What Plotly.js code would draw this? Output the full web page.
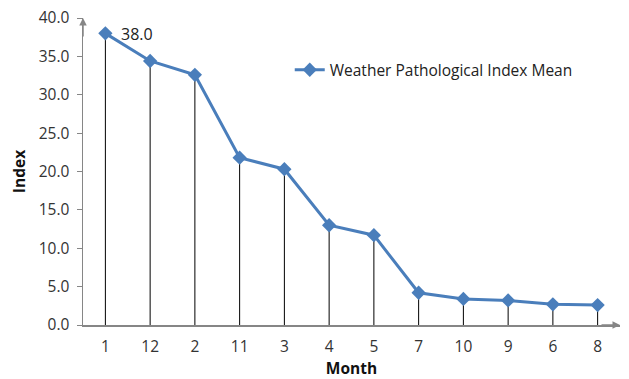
<!DOCTYPE html>
<html><head><meta charset="utf-8">
<script src="https://cdn.plot.ly/plotly-3.0.1.min.js"></script>
<style>html,body{margin:0;padding:0;background:#fff}#c{width:629px;height:379px}</style>
</head><body><div id="c"></div>
<script>
const months = ["1","12","2","11","3","4","5","7","10","9","6","8"];
const values = [38.0, 34.4, 32.6, 21.8, 20.3, 13.0, 11.7, 4.2, 3.4, 3.2, 2.7, 2.6];
const seriesName = "Weather Pathological Index Mean";
const yTicks = [0,5,10,15,20,25,30,35,40];

const FONT = "'Open Sans', sans-serif";
const trace = {
  type: "scatter", mode: "lines+markers",
  x: months, y: values, name: seriesName,
  line: {color: "#4a7ebb", width: 3},
  marker: {symbol: "diamond", size: 11, color: "#4a7ebb", line:{width:0}},
  error_y: {type: "data", symmetric: false, array: values.map(()=>0), arrayminus: values,
            color: "#000", thickness: 1, width: 0},
  cliponaxis: false
};
const layout = {
  width: 629, height: 379,
  margin: {l: 83, r: 9, t: 18, b: 54},
  paper_bgcolor: "#fff", plot_bgcolor: "#fff",
  font: {family: FONT, size: 16, color: "#404040"},
  showlegend: true,
  legend: {x: 0.385, y: 0.83, xanchor: "left", yanchor: "middle", bgcolor: "rgba(0,0,0,0)",
           font: {size: 15.5, color: "#222"}, itemwidth: 30},
  xaxis: {type: "category", range: [-0.5, 11.5], showgrid: false, zeroline: false,
          showline: true, linecolor: "#868686", linewidth: 1.5, ticks: "",
          ticklabelstandoff: 7,
          tickfont: {size: 15.5, color: "#333"},
          title: {text: "<b>Month</b>", font: {size: 15.5, color: "#111"}, standoff: 1}},
  yaxis: {range: [0, 40], tickvals: yTicks, ticktext: yTicks.map(v=>v.toFixed(1)),
          showgrid: false, zeroline: false, showline: true, linecolor: "#868686", linewidth: 1.5,
          ticks: "outside", ticklen: 5, tickcolor: "#868686", tickfont: {size: 15.5, color: "#333"},
          ticklabelstandoff: 4,
          title: {text: "<b>Index</b>", font: {size: 15.5, color: "#111"}, standoff: 9}},
  annotations: [
    {x: 0, y: values[0], xref: "x", yref: "y", text: values[0].toFixed(1), showarrow: false,
     xanchor: "left", yanchor: "middle", xshift: 14, yshift: -1, font: {size: 16, color: "#222"}},
    {x: 0, y: 1.0, xref: "paper", yref: "paper", ax: 0, ay: 20, axref: "pixel", ayref: "pixel",
     showarrow: true, arrowhead: 2, arrowsize: 1, arrowwidth: 1.5, arrowcolor: "#868686", text: ""},
    {x: 1.0, y: 0, xref: "paper", yref: "paper", ax: -20, ay: 0, axref: "pixel", ayref: "pixel",
     showarrow: true, arrowhead: 2, arrowsize: 1, arrowwidth: 1.5, arrowcolor: "#868686", text: ""}
  ]
};
Plotly.newPlot("c", [trace], layout, {displayModeBar: false, staticPlot: true});
</script></body></html>
